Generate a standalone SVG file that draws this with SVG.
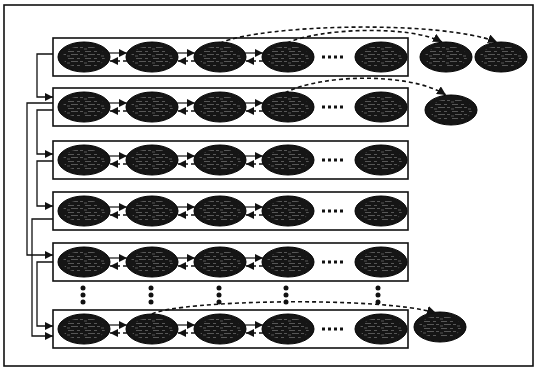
<svg xmlns="http://www.w3.org/2000/svg" width="537" height="369" viewBox="0 0 537 369">
<style>
.frame{fill:#fff;stroke:#111;stroke-width:1.6}
.row{fill:#fff;stroke:#111;stroke-width:1.6}
.nd{fill:#151515;stroke:#000;stroke-width:1}
.tx{fill:url(#tex);opacity:0.55}
.sl{fill:none;stroke:#111;stroke-width:1.2;marker-end:url(#ah)}
.dl{fill:none;stroke:#111;stroke-width:1.5;stroke-dasharray:4 3;marker-end:url(#ah)}
.dc{fill:none;stroke:#111;stroke-width:1.6;stroke-dasharray:4 3;marker-end:url(#ah2)}
.lc{fill:none;stroke:#111;stroke-width:1.3;marker-end:url(#ah)}
.dot{fill:#111}
</style>
<defs>
<marker id="ah" markerUnits="userSpaceOnUse" markerWidth="9" markerHeight="8" refX="8" refY="4" orient="auto"><path d="M0,0 L8,4 L0,8 Z" fill="#111"/></marker>
<marker id="ah2" markerUnits="userSpaceOnUse" markerWidth="10" markerHeight="9" refX="9" refY="4.5" orient="auto"><path d="M0,0 L9,4.5 L0,9 Z" fill="#111"/></marker>
<pattern id="tex" patternUnits="userSpaceOnUse" width="17" height="7">
<path d="M1,1.5 H7 M10,1.5 H13 M4,4.5 H11 M13,4.5 H16 M0,6 H3" stroke="#9a9a9a" stroke-width="0.9"/>
</pattern>
<g id="nodeShape"><ellipse class="nd" cx="0" cy="0" rx="26" ry="15"/><ellipse class="tx" cx="0" cy="0" rx="21" ry="11"/></g>
</defs>
<rect class="frame" x="4" y="5" width="529" height="361"/>

<g id="row1"><rect class="row" x="53" y="38" width="355" height="38"/>
<g id="n1_1"><use href="#nodeShape" x="84" y="57"/></g>
<g id="n1_2"><use href="#nodeShape" x="152" y="57"/></g>
<g id="n1_3"><use href="#nodeShape" x="220" y="57"/></g>
<g id="n1_4"><use href="#nodeShape" x="288" y="57"/></g>
<g id="n1_5"><use href="#nodeShape" x="381" y="57"/></g>
<g id="n1_6"><use href="#nodeShape" x="446" y="57"/></g>
<g id="n1_7"><use href="#nodeShape" x="501" y="57"/></g>
</g>
<g id="row2"><rect class="row" x="53" y="88" width="355" height="38"/>
<g id="n2_1"><use href="#nodeShape" x="84" y="107"/></g>
<g id="n2_2"><use href="#nodeShape" x="152" y="107"/></g>
<g id="n2_3"><use href="#nodeShape" x="220" y="107"/></g>
<g id="n2_4"><use href="#nodeShape" x="288" y="107"/></g>
<g id="n2_5"><use href="#nodeShape" x="381" y="107"/></g>
<g id="n2_6"><use href="#nodeShape" x="451" y="110"/></g>
</g>
<g id="row3"><rect class="row" x="53" y="141" width="355" height="38"/>
<g id="n3_1"><use href="#nodeShape" x="84" y="160"/></g>
<g id="n3_2"><use href="#nodeShape" x="152" y="160"/></g>
<g id="n3_3"><use href="#nodeShape" x="220" y="160"/></g>
<g id="n3_4"><use href="#nodeShape" x="288" y="160"/></g>
<g id="n3_5"><use href="#nodeShape" x="381" y="160"/></g>
</g>
<g id="row4"><rect class="row" x="53" y="192" width="355" height="38"/>
<g id="n4_1"><use href="#nodeShape" x="84" y="211"/></g>
<g id="n4_2"><use href="#nodeShape" x="152" y="211"/></g>
<g id="n4_3"><use href="#nodeShape" x="220" y="211"/></g>
<g id="n4_4"><use href="#nodeShape" x="288" y="211"/></g>
<g id="n4_5"><use href="#nodeShape" x="381" y="211"/></g>
</g>
<g id="row5"><rect class="row" x="53" y="243" width="355" height="38"/>
<g id="n5_1"><use href="#nodeShape" x="84" y="262"/></g>
<g id="n5_2"><use href="#nodeShape" x="152" y="262"/></g>
<g id="n5_3"><use href="#nodeShape" x="220" y="262"/></g>
<g id="n5_4"><use href="#nodeShape" x="288" y="262"/></g>
<g id="n5_5"><use href="#nodeShape" x="381" y="262"/></g>
</g>
<g id="row6"><rect class="row" x="53" y="310" width="355" height="38"/>
<g id="n6_1"><use href="#nodeShape" x="84" y="329"/></g>
<g id="n6_2"><use href="#nodeShape" x="152" y="329"/></g>
<g id="n6_3"><use href="#nodeShape" x="220" y="329"/></g>
<g id="n6_4"><use href="#nodeShape" x="288" y="329"/></g>
<g id="n6_5"><use href="#nodeShape" x="381" y="329"/></g>
<g id="n6_6"><use href="#nodeShape" x="440" y="327"/></g>
</g>

<g id="ellipsis">
<g class="dot">
<rect x="322" y="55.5" width="3" height="3"/><rect x="328" y="55.5" width="3" height="3"/><rect x="334" y="55.5" width="3" height="3"/><rect x="340" y="55.5" width="3" height="3"/>
<rect x="322" y="105.5" width="3" height="3"/><rect x="328" y="105.5" width="3" height="3"/><rect x="334" y="105.5" width="3" height="3"/><rect x="340" y="105.5" width="3" height="3"/>
<rect x="322" y="158.5" width="3" height="3"/><rect x="328" y="158.5" width="3" height="3"/><rect x="334" y="158.5" width="3" height="3"/><rect x="340" y="158.5" width="3" height="3"/>
<rect x="322" y="209.5" width="3" height="3"/><rect x="328" y="209.5" width="3" height="3"/><rect x="334" y="209.5" width="3" height="3"/><rect x="340" y="209.5" width="3" height="3"/>
<rect x="322" y="260.5" width="3" height="3"/><rect x="328" y="260.5" width="3" height="3"/><rect x="334" y="260.5" width="3" height="3"/><rect x="340" y="260.5" width="3" height="3"/>
<rect x="322" y="327.5" width="3" height="3"/><rect x="328" y="327.5" width="3" height="3"/><rect x="334" y="327.5" width="3" height="3"/><rect x="340" y="327.5" width="3" height="3"/>
<circle cx="83" cy="288" r="2.5"/><circle cx="83" cy="295" r="2.5"/><circle cx="83" cy="302" r="2.5"/>
<circle cx="151" cy="288" r="2.5"/><circle cx="151" cy="295" r="2.5"/><circle cx="151" cy="302" r="2.5"/>
<circle cx="219" cy="288" r="2.5"/><circle cx="219" cy="295" r="2.5"/><circle cx="219" cy="302" r="2.5"/>
<circle cx="286" cy="288" r="2.5"/><circle cx="286" cy="295" r="2.5"/><circle cx="286" cy="302" r="2.5"/>
<circle cx="378" cy="288" r="2.5"/><circle cx="378" cy="295" r="2.5"/><circle cx="378" cy="302" r="2.5"/>
</g>
</g>

<g id="connectors">
<path class="sl" d="M109,53 H127"/><path class="sl" d="M177,53 H195"/><path class="sl" d="M245,53 H263"/>
<path class="dl" d="M127,61 H110"/><path class="dl" d="M195,61 H178"/><path class="dl" d="M263,61 H246"/>
<path class="sl" d="M109,103 H127"/><path class="sl" d="M177,103 H195"/><path class="sl" d="M245,103 H263"/>
<path class="dl" d="M127,111 H110"/><path class="dl" d="M195,111 H178"/><path class="dl" d="M263,111 H246"/>
<path class="sl" d="M109,156 H127"/><path class="sl" d="M177,156 H195"/><path class="sl" d="M245,156 H263"/>
<path class="dl" d="M127,164 H110"/><path class="dl" d="M195,164 H178"/><path class="dl" d="M263,164 H246"/>
<path class="sl" d="M109,207 H127"/><path class="sl" d="M177,207 H195"/><path class="sl" d="M245,207 H263"/>
<path class="dl" d="M127,215 H110"/><path class="dl" d="M195,215 H178"/><path class="dl" d="M263,215 H246"/>
<path class="sl" d="M109,258 H127"/><path class="sl" d="M177,258 H195"/><path class="sl" d="M245,258 H263"/>
<path class="dl" d="M127,266 H110"/><path class="dl" d="M195,266 H178"/><path class="dl" d="M263,266 H246"/>
<path class="sl" d="M109,325 H127"/><path class="sl" d="M177,325 H195"/><path class="sl" d="M245,325 H263"/>
<path class="dl" d="M127,333 H110"/><path class="dl" d="M195,333 H178"/><path class="dl" d="M263,333 H246"/>
<path class="dc" d="M220,43 C265,24 440,20 497,42"/>
<path class="dc" d="M287,43 C320,28 410,25 442,42"/>
<path class="dc" d="M285,93 C320,74 410,72 446,95"/>
<path class="dc" d="M152,314 C180,300 380,296 436,313"/>
<path class="lc" d="M53,54 H37 V97 H53"/>
<path class="lc" d="M53,103 H27 V255 H53"/>
<path class="lc" d="M53,110 H37 V154 H53"/>
<path class="lc" d="M53,161 H37 V206 H53"/>
<path class="lc" d="M53,219 H32 V336 H53"/>
<path class="lc" d="M53,262 H37 V326 H53"/>
</g>
</svg>
